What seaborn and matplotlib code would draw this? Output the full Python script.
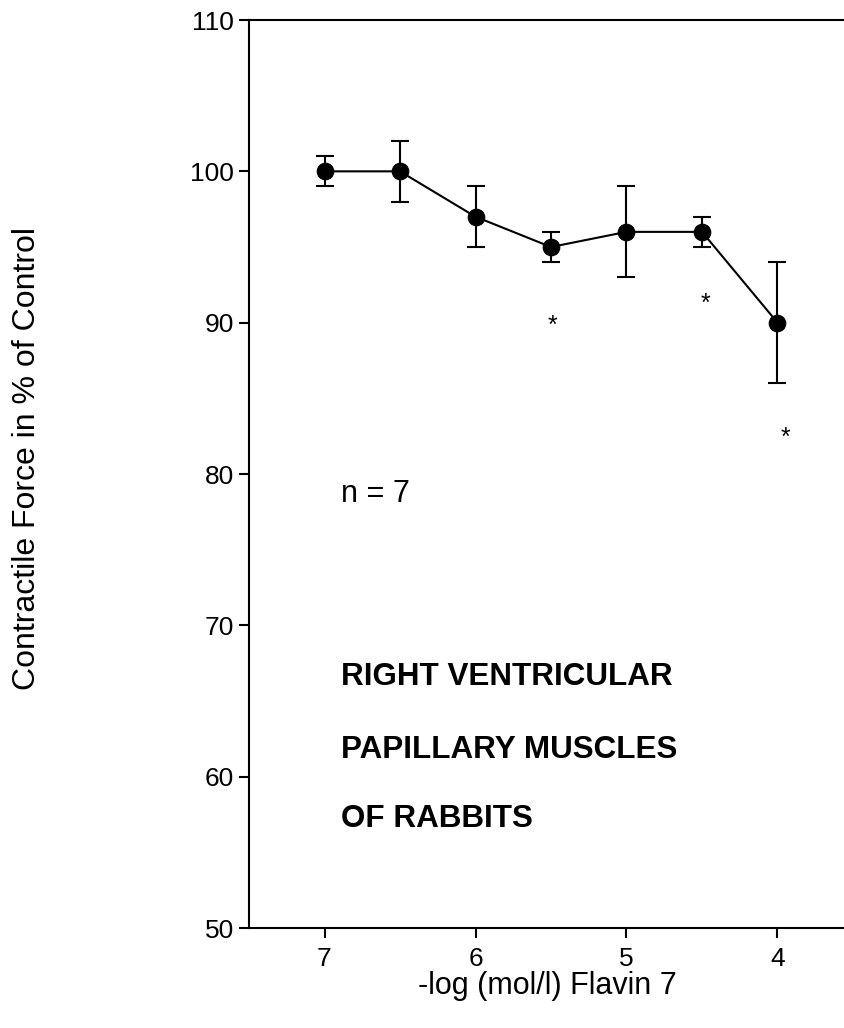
import numpy as np
import pandas as pd
import matplotlib
matplotlib.use("Agg")
import matplotlib.pyplot as plt
import seaborn as sns

# Concentrations (-log mol/l) and mean contractile force (% of control)
conc = [7.0, 6.5, 6.0, 5.5, 5.0, 4.5, 4.0]
force = [100, 100, 97, 95, 96, 96, 90]
sem = [1, 2, 2, 1, 3, 1, 4]

# Significance markers
sig_x = [5.49, 4.48, 3.95]
sig_y = [90.3, 91.7, 82.9]

x_ticks = [7, 6, 5, 4]
y_ticks = [50, 60, 70, 80, 90, 100, 110]

sns.set_theme(style="ticks")
plt.rcParams["font.family"] = ["Liberation Sans", "DejaVu Sans"]
plt.rcParams["text.color"] = "black"
plt.rcParams["axes.labelcolor"] = "black"
plt.rcParams["xtick.color"] = "black"
plt.rcParams["ytick.color"] = "black"

W, H = 845, 1028
fig = plt.figure(figsize=(W / 100, H / 100), dpi=100)
ax = fig.add_axes([249 / W, 1 - 928 / H, (W - 249) / W, (928 - 20) / H])

df = pd.DataFrame({"conc": conc, "force": force, "sem": sem})

ax.errorbar(df["conc"], df["force"], yerr=df["sem"], fmt="none",
            ecolor="black", elinewidth=1.5, capsize=6.5, capthick=1.5, zorder=2)
sns.lineplot(data=df, x="conc", y="force", ax=ax, color="black", linewidth=1.5,
             marker="o", markersize=12, markeredgecolor="black",
             markerfacecolor="black", zorder=3)

for sx, sy in zip(sig_x, sig_y):
    ax.text(sx, sy - 0.95, "*", fontsize=18, ha="center", va="baseline", color="black")

ax.text(6.889, 78.15, "n = 7", fontsize=22, ha="left", va="baseline", color="black")
for label, yb in zip(["RIGHT VENTRICULAR", "PAPILLARY MUSCLES", "OF RABBITS"],
                     [66.06, 61.23, 56.67]):
    ax.text(6.889, yb, label, fontsize=22.6, fontweight="bold", ha="left",
            va="baseline", color="black")

ax.set_xlim(7.5, 7.5 - (W - 249) / 151.0)
ax.set_ylim(50, 110)
ax.set_xticks(x_ticks)
ax.set_xticklabels([str(t) for t in x_ticks])
ax.set_yticks(y_ticks)
ax.set_yticklabels([str(t) for t in y_ticks])

ax.spines["right"].set_visible(False)
for s in ["left", "top", "bottom"]:
    ax.spines[s].set_linewidth(1.5)
    ax.spines[s].set_color("black")

ax.tick_params(axis="both", direction="out", length=7.5, width=1.5,
               colors="black", labelsize=19)
ax.tick_params(axis="x", pad=6)
ax.tick_params(axis="y", pad=3.5)

ax.set_xlabel("-log (mol/l) Flavin 7", fontsize=22, color="black")
ax.set_ylabel("Contractile Force in % of Control", fontsize=23, color="black")
ax.xaxis.set_label_coords(0.5, -0.047)
ax.yaxis.set_label_coords(-0.347, 0.517)

fig.savefig("out.png", dpi=100)
